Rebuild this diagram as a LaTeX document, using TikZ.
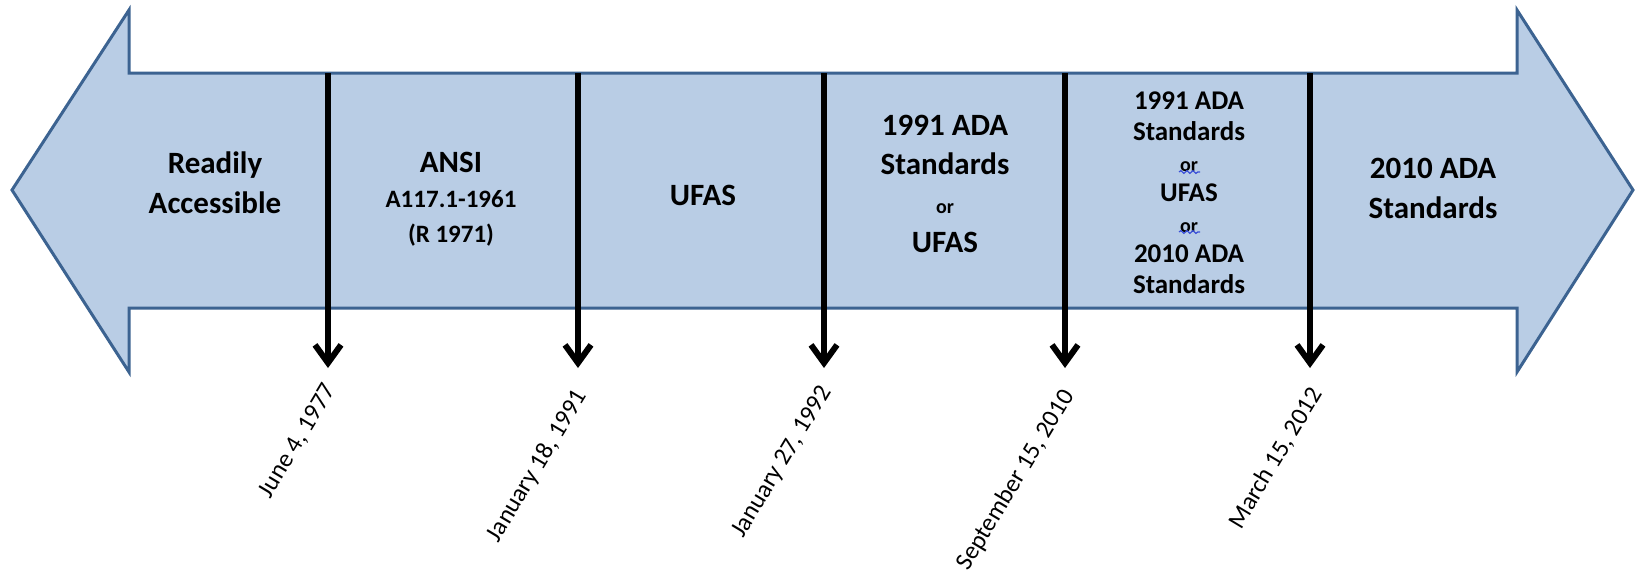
\documentclass[tikz,border=0pt]{standalone}
\usepackage{fontspec}
\setmainfont{Carlito}
\usetikzlibrary{arrows.meta,decorations.pathmorphing}
\definecolor{bandfill}{HTML}{B9CDE5}
\definecolor{bandline}{HTML}{3C6391}
\definecolor{spellblue}{HTML}{3A4FD8}

\begin{document}
\begin{tikzpicture}[x=0.5pt,y=-0.5pt,
  period/.style={align=center,inner sep=0pt,
    font=\bfseries\fontsize{15.5pt}{20pt}\selectfont},
  marker/.style={line width=3pt,-{Straight Barb[length=9pt,width=13pt]}},
  datelabel/.style={rotate=59,anchor=east,inner sep=0pt,
    font=\fontsize{12.5pt}{15pt}\selectfont},
  squiggle/.style={spellblue,line width=0.6pt,decorate,
    decoration={snake,amplitude=0.7pt,segment length=3pt}}]
  \useasboundingbox (0,0) rectangle (1636,570);
  \path[fill=bandfill,draw=bandline,line width=1.5pt]
    (12,190) -- (129,10) -- (129,73) --
    (1517,73) -- (1517,10) -- (1633,190) --
    (1517,372) -- (1517,308) --
    (129,308) -- (129,372) -- cycle;

  \node[period] (readily) at (215,183) {Readily\\Accessible};
  \node[period,font=\bfseries\fontsize{12.5pt}{17.5pt}\selectfont] (ansi) at (451,199)
    {{\fontsize{15.5pt}{17.5pt}\selectfont ANSI}\\A117.1-1961\\(R 1971)};
  \node[period] (ufas) at (703,195) {UFAS};
  \node[period,font=\bfseries\fontsize{15.5pt}{19.5pt}\selectfont] (ada91) at (945,184)
    {1991 ADA\\Standards\\{\fontsize{10pt}{19.5pt}\selectfont or}\\UFAS};
  \node[period,font=\bfseries\fontsize{13.5pt}{15.3pt}\selectfont] (either) at (1189,193)
    {1991 ADA\\Standards\\{\fontsize{10pt}{15.3pt}\selectfont or}\\UFAS\\
     {\fontsize{10pt}{15.3pt}\selectfont or}\\2010 ADA\\Standards};
  \node[period] (ada10) at (1433,188) {2010 ADA\\Standards};

  \draw[squiggle] (1179,172) -- (1200,172);
  \draw[squiggle] (1179,232) -- (1200,232);

  \coordinate (t1) at (328,73);
  \coordinate (b1) at (328,368);
  \coordinate (t2) at (578,73);
  \coordinate (b2) at (578,368);
  \coordinate (t3) at (824,73);
  \coordinate (b3) at (824,368);
  \coordinate (t4) at (1065,73);
  \coordinate (b4) at (1065,368);
  \coordinate (t5) at (1310,73);
  \coordinate (b5) at (1310,368);

  \draw[marker] (t1) -- (b1);
  \draw[marker] (t2) -- (b2);
  \draw[marker] (t3) -- (b3);
  \draw[marker] (t4) -- (b4);
  \draw[marker] (t5) -- (b5);

  \node[datelabel] (june77) at (331,386) {June 4, 1977};
  \node[datelabel] (jan91) at (582,392) {January 18, 1991};
  \node[datelabel] (jan92) at (827,388) {January 27, 1992};
  \node[datelabel] (sep10) at (1069,392) {September 15, 2010};
  \node[datelabel] (mar12) at (1317,390) {March 15, 2012};
\end{tikzpicture}
\end{document}
